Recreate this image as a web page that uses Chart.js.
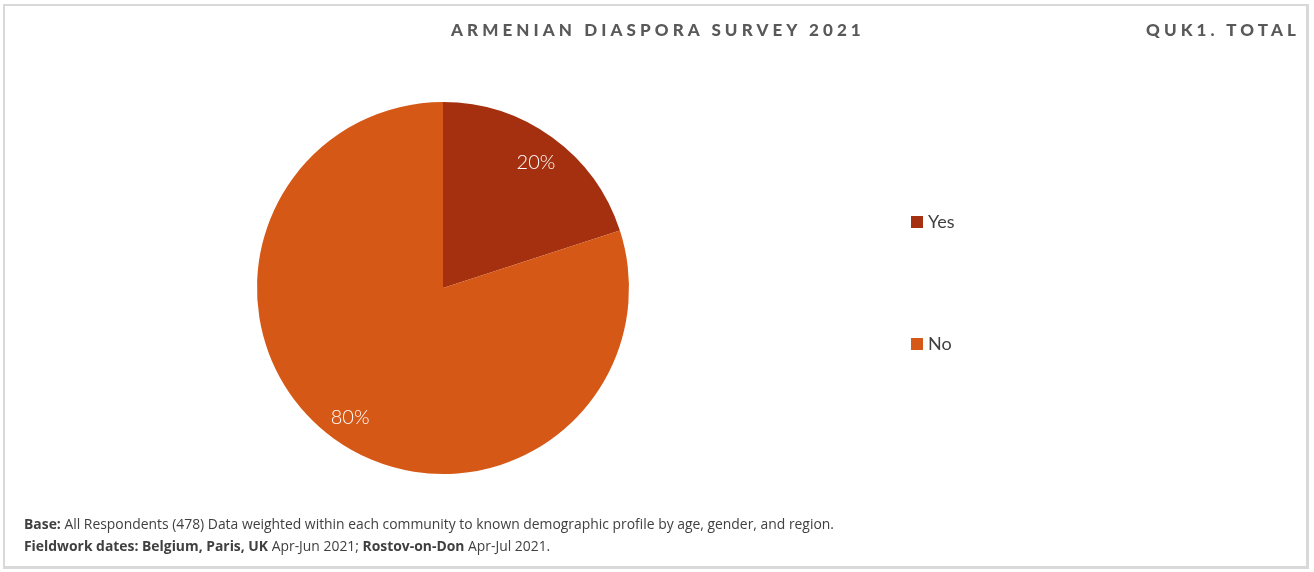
<!DOCTYPE html>
<html>
<head>
<meta charset="utf-8">
<script src="https://cdn.jsdelivr.net/npm/chart.js@4.4.1/dist/chart.umd.min.js"></script>
<style>
  body { margin: 0; background: #fff; }
  #wrap { position: relative; width: 1314px; height: 572px; overflow: hidden; }
  #frame { position: absolute; left: 3px; top: 4px; width: 1301px; height: 560px;
           border: 2px solid #d9d9d9; border-right-width: 3px; border-bottom-width: 3px; }
  #pie { position: absolute; left: 0; top: 0; }
  .title { position: absolute; top: 19px; font-family: Lato, 'Open Sans', sans-serif;
           font-weight: 900; font-size: 17px; letter-spacing: 4.1px; color: #595959; white-space: nowrap; }
  #notes { position: absolute; left: 24px; top: 513px; font-family: 'Open Sans', Lato, sans-serif;
           font-size: 13.9px; line-height: 22px; color: #404040; white-space: nowrap; }
</style>
</head>
<body>
<div id="wrap">
  <div id="frame"></div>
  <canvas id="pie" width="1314" height="572"></canvas>
  <div class="title" style="left:451px">ARMENIAN DIASPORA SURVEY 2021</div>
  <div class="title" style="left:1146px">QUK1. TOTAL</div>
  <div id="notes">
    <div><b>Base:</b> All Respondents (478) Data weighted within each community to known demographic profile by age, gender, and region.</div>
    <div><b>Fieldwork dates: Belgium, Paris, UK</b> Apr-Jun 2021; <b>Rostov-on-Don</b> Apr-Jul 2021.</div>
  </div>
</div>
<script>
const labels = ['Yes', 'No']
const values = [20, 80]
const colors = ['#A5300F', '#D55816']

let ctx = document.getElementById('pie')

// percent labels inside slices, like the office chart
const sliceLabels = {
  id: 'sliceLabels',
  afterDatasetsDraw(chart) {
    const c = chart.ctx
    const meta = chart.getDatasetMeta(0)
    const total = values.reduce((a, b) => a + b, 0)
    c.save()
    c.fillStyle = '#fff'
    c.font = '300 20px Lato, "Open Sans", sans-serif'
    c.textAlign = 'center'
    c.textBaseline = 'middle'
    meta.data.forEach((arc, i) => {
      const mid = (arc.startAngle + arc.endAngle) / 2
      const r = arc.outerRadius * 0.85
      const x = arc.x + Math.cos(mid) * r
      const y = arc.y + Math.sin(mid) * r + 2
      c.fillText(Math.round(values[i] / total * 100) + '%', x, y)
    })
    c.restore()
  }
}

// legend on the right with wide spacing
const sideLegend = {
  id: 'sideLegend',
  afterDraw(chart) {
    const c = chart.ctx
    c.save()
    c.font = '18px Lato, "Open Sans", sans-serif'
    c.textBaseline = 'middle'
    labels.forEach((lab, i) => {
      const y = 222 + i * 122
      c.fillStyle = colors[i]
      c.fillRect(911, y - 6, 12, 12)
      c.fillStyle = '#404040'
      c.fillText(lab, 928, y)
    })
    c.restore()
  }
}

new Chart(ctx, {
  type: 'pie',
  data: {
    labels: labels,
    datasets: [{
      data: values,
      backgroundColor: colors,
      borderWidth: 0
    }]
  },
  options: {
    responsive: false,
    animation: false,
    layout: { padding: { left: 257, right: 685, top: 102, bottom: 98 } },
    plugins: {
      legend: { display: false },
      tooltip: { enabled: false }
    }
  },
  plugins: [sliceLabels, sideLegend]
})
</script>
</body>
</html>
